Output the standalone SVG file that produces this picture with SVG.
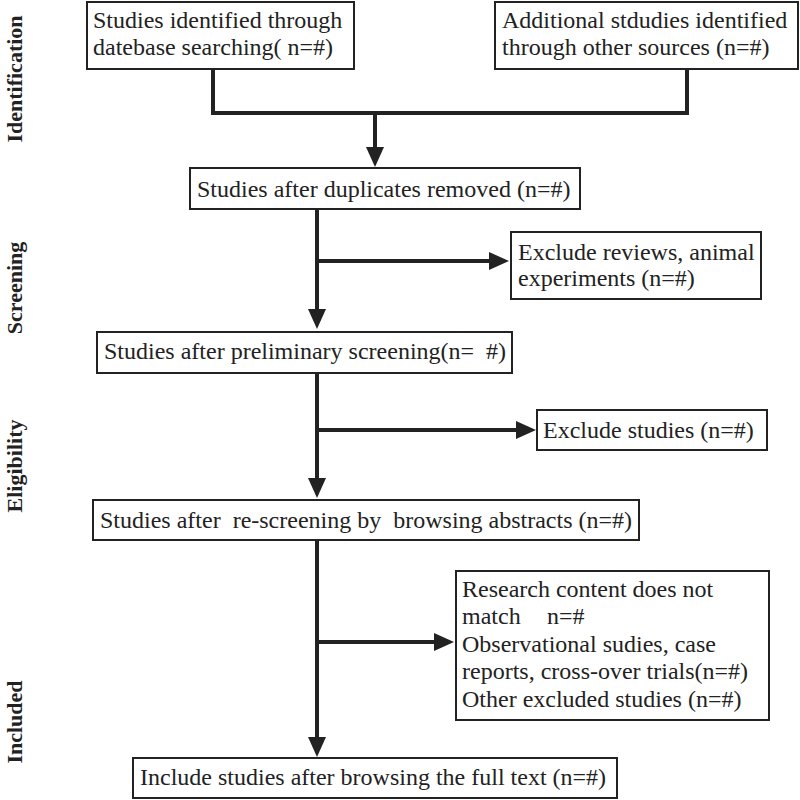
<svg xmlns="http://www.w3.org/2000/svg" width="800" height="800" viewBox="0 0 800 800">
<style>
.box{fill:#fff;stroke:#222;stroke-width:2}
.t{font-family:"Liberation Serif","Times New Roman",serif;font-size:24px;fill:#222}
.side{font-family:"Liberation Serif","Times New Roman",serif;font-size:22px;font-weight:bold;fill:#222}
.con{fill:none;stroke:#222;stroke-width:4}
</style>
<defs>
<marker id="ah" markerUnits="userSpaceOnUse" markerWidth="20" markerHeight="18" viewBox="0 0 20 18" refX="1" refY="9" orient="auto">
<path d="M0,0 L20,9 L0,18 z" fill="#222"/>
</marker>
</defs>
<rect width="800" height="800" fill="#fff"/>
<g id="labels">
<text class="side" transform="translate(22,79) rotate(-90)" text-anchor="middle">Identification</text>
<text class="side" transform="translate(22,288) rotate(-90)" text-anchor="middle">Screening</text>
<text class="side" transform="translate(22,466) rotate(-90)" text-anchor="middle">Eligibility</text>
<text class="side" transform="translate(22,722) rotate(-90)" text-anchor="middle">Included</text>
</g>
<g id="connectors">
<polyline class="con" points="213,69 213,113 687,113 687,69"/>
<line class="con" x1="375" y1="113" x2="375" y2="148" marker-end="url(#ah)"/>
<line class="con" x1="317" y1="209" x2="317" y2="310" marker-end="url(#ah)"/>
<line class="con" x1="317" y1="261" x2="490" y2="261" marker-end="url(#ah)"/>
<line class="con" x1="317" y1="373" x2="317" y2="479" marker-end="url(#ah)"/>
<line class="con" x1="317" y1="430" x2="517" y2="430" marker-end="url(#ah)"/>
<line class="con" x1="317" y1="540" x2="317" y2="738" marker-end="url(#ah)"/>
<line class="con" x1="317" y1="642" x2="435" y2="642" marker-end="url(#ah)"/>
</g>
<g id="n1">
<rect class="box" x="87" y="2" width="267" height="67"/>
<text class="t" x="93" y="28">Studies identified through</text>
<text class="t" x="93" y="55">datebase searching( n=#)</text>
</g>
<g id="n2">
<rect class="box" x="495" y="2" width="303" height="67"/>
<text class="t" x="502" y="28">Additional stdudies identified</text>
<text class="t" x="502" y="55">through other sources (n=#)</text>
</g>
<g id="n3">
<rect class="box" x="190" y="168" width="390" height="41"/>
<text class="t" x="197" y="197">Studies after duplicates removed (n=#)</text>
</g>
<g id="n4">
<rect class="box" x="511" y="232" width="250" height="67"/>
<text class="t" x="518" y="260">Exclude reviews, animal</text>
<text class="t" x="518" y="286">experiments (n=#)</text>
</g>
<g id="n5">
<rect class="box" x="97" y="332" width="415" height="41"/>
<text class="t" x="104" y="359" xml:space="preserve">Studies after preliminary screening(n=  #)</text>
</g>
<g id="n6">
<rect class="box" x="537" y="410" width="230" height="40"/>
<text class="t" x="543" y="438">Exclude studies (n=#)</text>
</g>
<g id="n7">
<rect class="box" x="93" y="500" width="546" height="40"/>
<text class="t" x="100" y="528" xml:space="preserve">Studies after  re-screening by  browsing abstracts (n=#)</text>
</g>
<g id="n8">
<rect class="box" x="456" y="571" width="313" height="149"/>
<text class="t" x="462" y="597">Research content does not</text>
<text class="t" x="462" y="624">match<tspan x="547">n=#</tspan></text>
<text class="t" x="462" y="652">Observational sudies, case</text>
<text class="t" x="462" y="679">reports, cross-over trials(n=#)</text>
<text class="t" x="462" y="707">Other excluded studies (n=#)</text>
</g>
<g id="n9">
<rect class="box" x="133" y="758" width="484" height="40"/>
<text class="t" x="140" y="785">Include studies after browsing the full text (n=#)</text>
</g>
</svg>
